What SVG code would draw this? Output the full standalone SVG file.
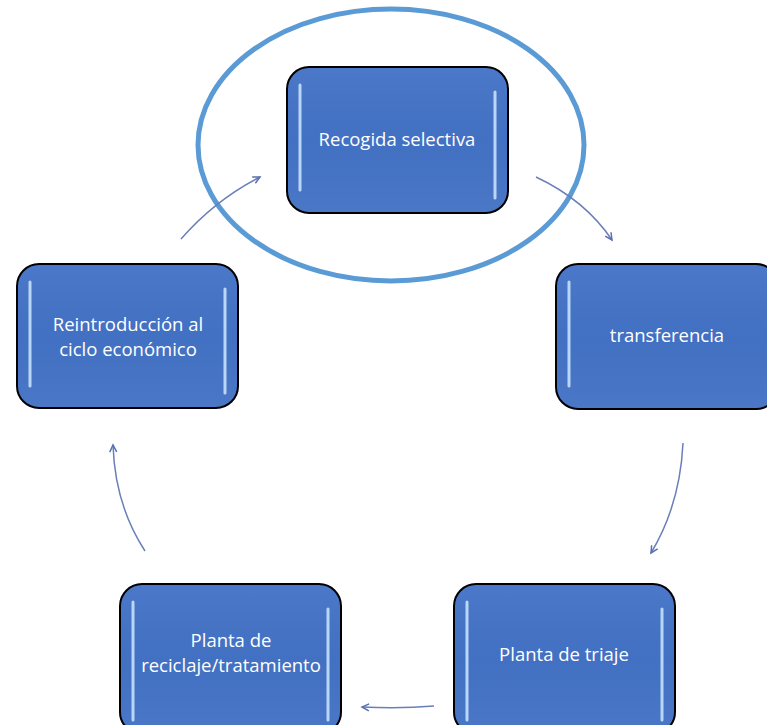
<svg xmlns="http://www.w3.org/2000/svg" width="767" height="725" viewBox="0 0 767 725">
  <style>
    .box { fill: url(#boxFill); stroke: #000; stroke-width: 2; }
    .shine { stroke: #cfe8ff; stroke-width: 3; stroke-linecap: round; fill: none; opacity: 0.85; }
    .label { font-family: "Open Sans", "Liberation Sans", sans-serif; font-size: 18.5px; fill: #ffffff; text-anchor: middle; }
    .flow { fill: none; stroke: #6a7fb8; stroke-width: 1.5; marker-end: url(#head); }
  </style>
  <defs>
    <linearGradient id="boxFill" x1="0" y1="0" x2="0" y2="1">
      <stop offset="0" stop-color="#4b78c8"/>
      <stop offset="0.5" stop-color="#4270c2"/>
      <stop offset="1" stop-color="#4a77c6"/>
    </linearGradient>
    <marker id="head" markerWidth="10" markerHeight="10" refX="8" refY="5" orient="auto" markerUnits="userSpaceOnUse">
      <path d="M1,1.5 L8,5 L1,8.5" fill="none" stroke="#5a70b0" stroke-width="1.5"/>
    </marker>
  </defs>

  <!-- highlight ring round the first step -->
  <ellipse cx="391" cy="145" rx="193" ry="136" fill="none" stroke="#5b9bd5" stroke-width="5"/>

  <!-- cycle connectors -->
  <g id="connectors">
    <path class="flow" d="M536,177 Q585,200 612,240"/>
    <path class="flow" d="M683,443 Q680,505 651,553"/>
    <path class="flow" d="M434,706 Q400,709 362,707"/>
    <path class="flow" d="M145,551 Q115,505 113,445"/>
    <path class="flow" d="M181,239 Q215,200 260,177"/>
  </g>

  <g id="recogida">
    <rect class="box" x="287" y="67" width="221" height="146" rx="22"/>
    <path class="shine" d="M300,85 V190"/>
    <path class="shine" d="M495,92 V198"/>
    <text class="label" x="397" y="146">Recogida selectiva</text>
  </g>

  <g id="transferencia">
    <rect class="box" x="556" y="264" width="222" height="145" rx="22"/>
    <path class="shine" d="M569,282 V386"/>
    <text class="label" x="667" y="342">transferencia</text>
  </g>

  <g id="triaje">
    <rect class="box" x="454" y="584" width="221" height="150" rx="22"/>
    <path class="shine" d="M467,602 V720"/>
    <path class="shine" d="M662,609 V720"/>
    <text class="label" x="564" y="661">Planta de triaje</text>
  </g>

  <g id="reciclaje">
    <rect class="box" x="120" y="584" width="221" height="150" rx="22"/>
    <path class="shine" d="M133,602 V720"/>
    <path class="shine" d="M328,609 V720"/>
    <text class="label" x="231" y="647">Planta de</text>
    <text class="label" x="231" y="672">reciclaje/tratamiento</text>
  </g>

  <g id="reintroduccion">
    <rect class="box" x="17" y="264" width="221" height="144" rx="22"/>
    <path class="shine" d="M30,282 V386"/>
    <path class="shine" d="M225,289 V393"/>
    <text class="label" x="128" y="331">Reintroducción al</text>
    <text class="label" x="128" y="356">ciclo económico</text>
  </g>
</svg>
